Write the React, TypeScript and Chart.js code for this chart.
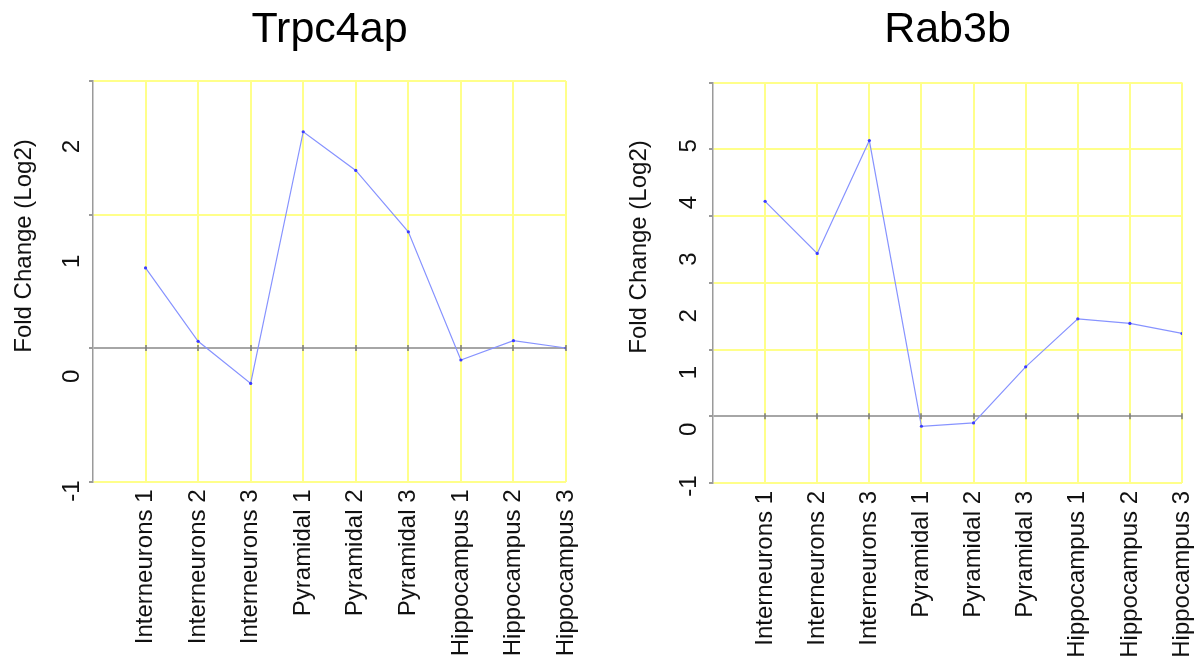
import React, { useEffect, useRef } from 'react';
import { Chart, registerables } from 'chart.js';

Chart.register(...registerables);

const CATEGORIES = [
  'Interneurons 1',
  'Interneurons 2',
  'Interneurons 3',
  'Pyramidal 1',
  'Pyramidal 2',
  'Pyramidal 3',
  'Hippocampus 1',
  'Hippocampus 2',
  'Hippocampus 3',
];

const TRPC4AP_VALUES = [0.6, 0.05, -0.265, 1.62, 1.33, 0.87, -0.09, 0.055, 0.0];
const RAB3B_VALUES = [3.22, 2.44, 4.13, -0.15, -0.1, 0.74, 1.46, 1.39, 1.24];

const TRPC4AP_TICK_LABELS = [-1, 0, 1, 2];
const RAB3B_TICK_LABELS = [-1, 0, 1, 2, 3, 4, 5];

const Y_TITLE = 'Fold Change (Log2)';

const FONT = '"Liberation Sans", Arial, Helvetica, sans-serif';
const GRID_YELLOW = '#ffff8a';
const ZERO_GRAY = '#a6a6a6';
const AXIS_GRAY = '#9a9a9a';
const TEXT = '#111111';

interface PanelCfg {
  title: string;
  values: number[];
  tickLabels: number[];
  yMin: number;
  yMax: number;
  labelMin: number;
  labelMax: number;
  labelAxisWidth: number;
  tickPad: number;
  padRight: number;
  xAxisHeight: number;
  titlePadBottom: number;
  yTitleX: number;
  yTitleY: number;
}

const PANELS: PanelCfg[] = [
  {
    title: 'Trpc4ap',
    values: TRPC4AP_VALUES,
    tickLabels: TRPC4AP_TICK_LABELS,
    yMin: -1,
    yMax: 2,
    labelMin: -0.917,
    labelMax: 2.571,
    labelAxisWidth: 89,
    tickPad: -2,
    padRight: 32,
    xAxisHeight: 184.5,
    titlePadBottom: 25.4,
    yTitleX: 24,
    yTitleY: 246,
  },
  {
    title: 'Rab3b',
    values: RAB3B_VALUES,
    tickLabels: RAB3B_TICK_LABELS,
    yMin: -1,
    yMax: 5,
    labelMin: -0.947,
    labelMax: 6.116,
    labelAxisWidth: 111,
    tickPad: 1,
    padRight: 14,
    xAxisHeight: 183,
    titlePadBottom: 26.9,
    yTitleX: 41,
    yTitleY: 247,
  },
];

const yTitlePlugin = {
  id: 'yTitle',
  afterDatasetsDraw(chart: any) {
    // small category tick marks on the zero line
    const ctx = chart.ctx as CanvasRenderingContext2D;
    const xs = chart.scales.x;
    const ys = chart.scales.y;
    const y0 = ys.getPixelForValue(0);
    ctx.save();
    ctx.strokeStyle = '#7a7a7a';
    ctx.lineWidth = 1.5;
    CATEGORIES.forEach((_c, i) => {
      const px = Math.round(xs.getPixelForValue(i + 1));
      ctx.beginPath();
      ctx.moveTo(px, y0 - 3);
      ctx.lineTo(px, y0 + 3);
      ctx.stroke();
    });
    ctx.restore();
  },
  afterDraw(chart: any, _args: any, opts: any) {
    const ctx = chart.ctx as CanvasRenderingContext2D;
    ctx.save();
    ctx.translate(opts.x, opts.y);
    ctx.rotate(-Math.PI / 2);
    ctx.font = `24px ${FONT}`;
    ctx.fillStyle = TEXT;
    ctx.textAlign = 'center';
    ctx.textBaseline = 'middle';
    ctx.fillText(opts.text, 0, 0);
    ctx.restore();
  },
};

function Panel({ cfg, left }: { cfg: PanelCfg; left: number }) {
  const ref = useRef<HTMLCanvasElement>(null);

  useEffect(() => {
    if (!ref.current) return;
    const chart = new Chart(ref.current, {
      type: 'line',
      data: {
        datasets: [
          {
            data: cfg.values.map((v, i) => ({ x: i + 1, y: v })),
            borderColor: '#8793ff',
            borderWidth: 1.2,
            pointRadius: 1.6,
            pointBackgroundColor: '#3b3bff',
            pointBorderWidth: 0,
            tension: 0,
            xAxisID: 'x',
            yAxisID: 'y',
          },
        ],
      },
      options: {
        responsive: false,
        animation: false,
        devicePixelRatio: 1,
        layout: { padding: { top: 0, right: cfg.padRight, bottom: 0, left: 0 } },
        plugins: {
          legend: { display: false },
          tooltip: { enabled: false },
          title: {
            display: true,
            text: cfg.title,
            fullSize: false,
            color: '#000',
            font: { family: FONT, size: 43, weight: 'normal', lineHeight: 1.2 },
            padding: { top: 4, bottom: cfg.titlePadBottom },
          },
          // @ts-ignore
          yTitle: { text: Y_TITLE, x: cfg.yTitleX, y: cfg.yTitleY },
        },
        scales: {
          x: {
            type: 'linear',
            position: 'bottom',
            min: 0,
            max: 9,
            ticks: {
              stepSize: 1,
              autoSkip: false,
              minRotation: 90,
              maxRotation: 90,
              padding: 8,
              color: TEXT,
              font: { family: FONT, size: 24 },
              callback: (v: any) => CATEGORIES[Number(v) - 1] ?? '',
            },
            grid: {
              color: (c: any) => (c.tick && c.tick.value === 0 ? 'rgba(0,0,0,0)' : GRID_YELLOW),
              lineWidth: 2,
              drawTicks: false,
            },
            border: { display: false },
            afterFit: (s: any) => {
              s.height = cfg.xAxisHeight;
              s.paddingLeft = 0;
              s.paddingRight = 0;
            },
          },
          y: {
            type: 'linear',
            position: 'left',
            weight: 0,
            min: cfg.yMin,
            max: cfg.yMax,
            ticks: { stepSize: 1, display: false },
            grid: {
              color: (c: any) => (c.tick && c.tick.value === 0 ? ZERO_GRAY : GRID_YELLOW),
              lineWidth: 2,
              tickColor: AXIS_GRAY,
              tickLength: 4,
              drawTicks: true,
            },
            border: { color: AXIS_GRAY, width: 1.5 },
            afterFit: (s: any) => {
              s.width = 4;
            },
          },
          yl: {
            type: 'linear',
            position: 'left',
            weight: 1,
            min: cfg.labelMin,
            max: cfg.labelMax,
            grid: { display: false },
            border: { display: false },
            ticks: {
              autoSkip: false,
              minRotation: 90,
              maxRotation: 90,
              crossAlign: 'center',
              padding: cfg.tickPad,
              color: TEXT,
              font: { family: FONT, size: 24 },
            },
            afterBuildTicks: (s: any) => {
              s.ticks = cfg.tickLabels.map((v) => ({ value: v }));
            },
            afterFit: (s: any) => {
              s.width = cfg.labelAxisWidth;
            },
          },
        },
      } as any,
      plugins: [yTitlePlugin],
    });
    return () => chart.destroy();
  }, [cfg]);

  return (
    <canvas
      ref={ref}
      width={598}
      height={666}
      style={{ position: 'absolute', left, top: 0, width: 598, height: 666 }}
    />
  );
}

export default function App() {
  return (
    <div
      style={{
        position: 'fixed',
        left: 0,
        top: 0,
        width: 1196,
        height: 666,
        background: '#ffffff',
        overflow: 'hidden',
      }}
    >
      <Panel cfg={PANELS[0]} left={0} />
      <Panel cfg={PANELS[1]} left={598} />
    </div>
  );
}
